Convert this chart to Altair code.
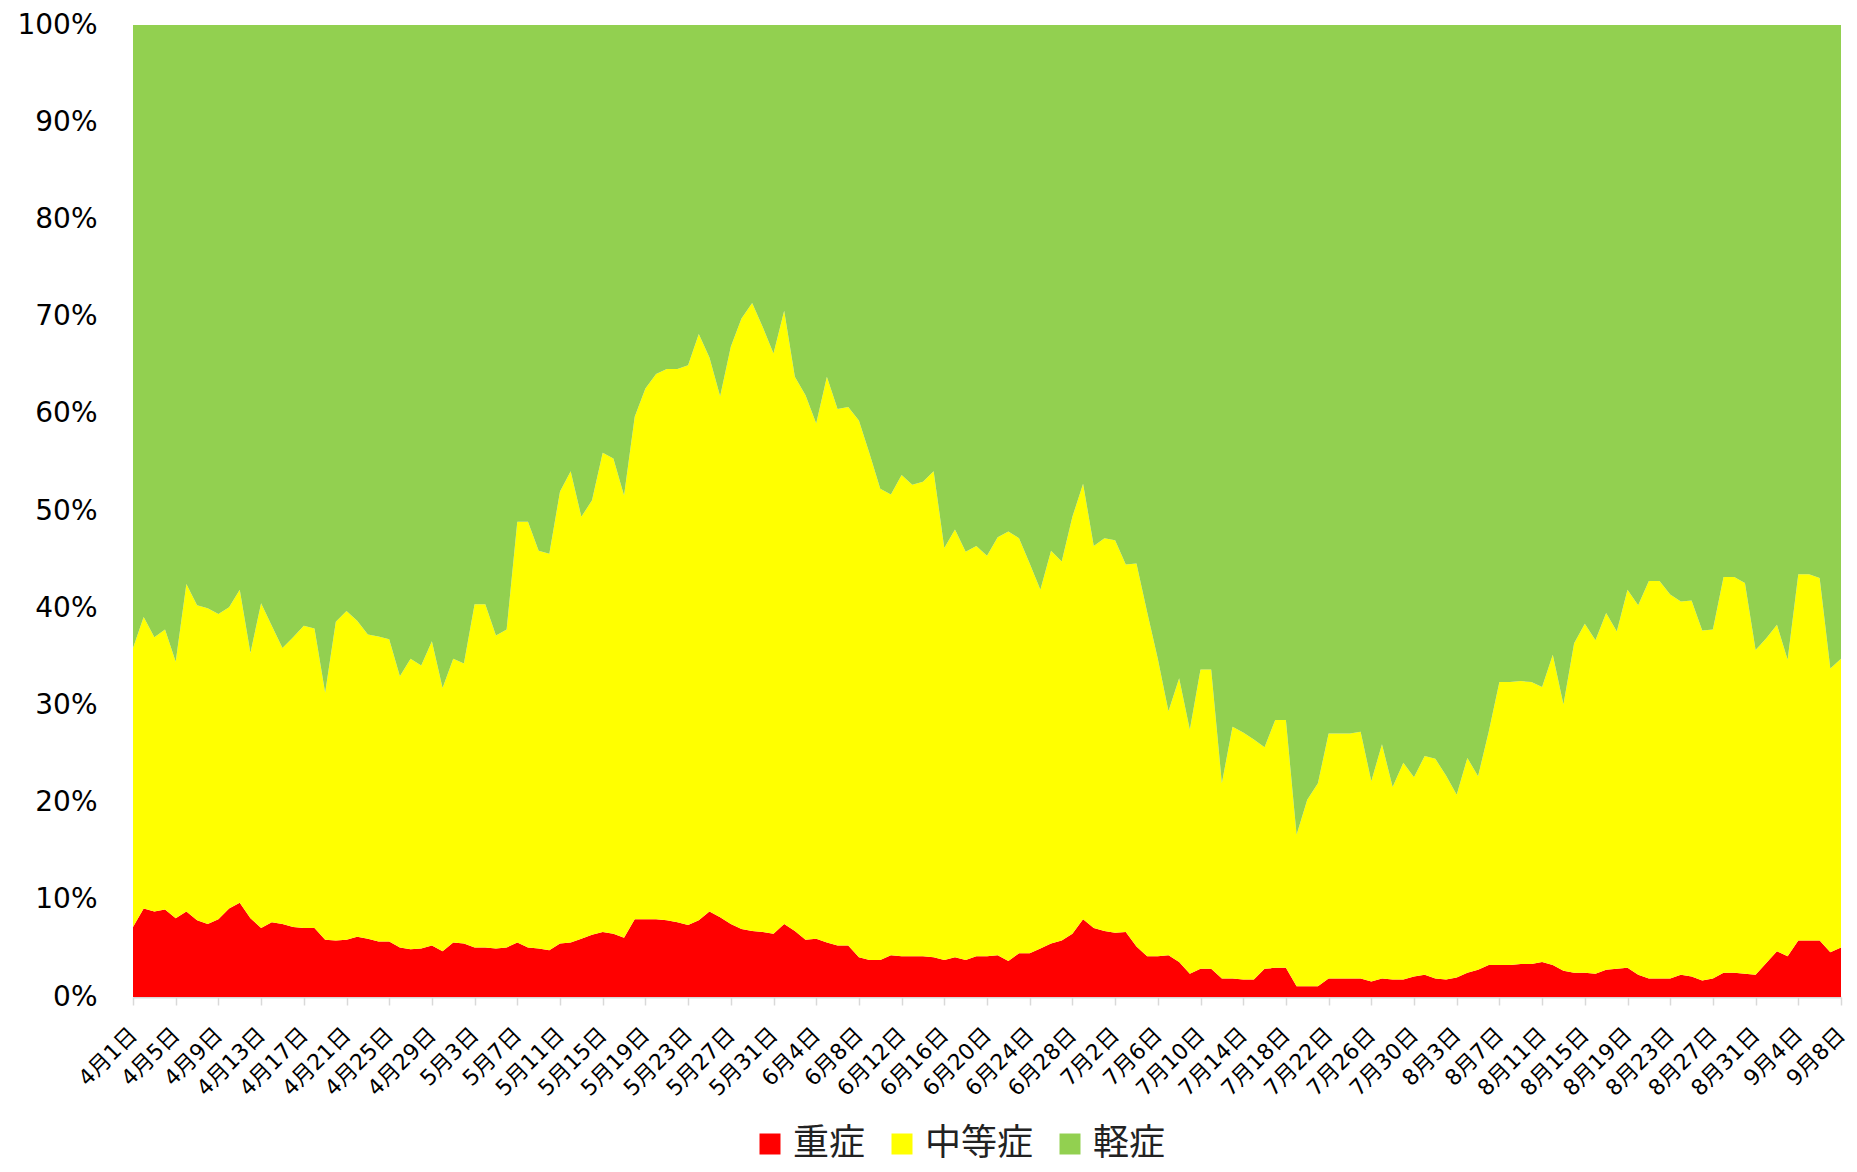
import altair as alt
import pandas as pd

# Date labels, 4月1日 .. 9月8日 (161 days)
dates = [f"{d.month}月{d.day}日" for d in pd.date_range("2020-04-01", "2020-09-08", freq="D")]

categories = ["重症", "中等症", "軽症"]
colors = ["#FF0000", "#FFFF00", "#92D050"]

severe = [
    7.2, 9.1, 8.8, 9.0, 8.1, 8.8, 7.9, 7.5, 8.0, 9.1,
    9.7, 8.1, 7.1, 7.7, 7.5, 7.2, 7.1, 7.1, 5.9, 5.8,
    5.9, 6.2, 6.0, 5.7, 5.7, 5.1, 4.9, 5.0, 5.3, 4.7,
    5.6, 5.5, 5.1, 5.1, 5.0, 5.1, 5.6, 5.1, 5.0, 4.8,
    5.5, 5.6, 6.0, 6.4, 6.7, 6.5, 6.1, 8.0, 8.0, 8.0,
    7.9, 7.7, 7.4, 7.9, 8.8, 8.2, 7.5, 7.0, 6.8, 6.7,
    6.5, 7.5, 6.8, 5.9, 6.0, 5.6, 5.3, 5.3, 4.1, 3.8,
    3.8, 4.3, 4.2, 4.2, 4.2, 4.1, 3.8, 4.1, 3.8, 4.2,
    4.2, 4.3, 3.7, 4.5, 4.5, 5.0, 5.5, 5.8, 6.5, 8.0,
    7.1, 6.8, 6.6, 6.7, 5.2, 4.2, 4.2, 4.3, 3.6, 2.4,
    2.9, 2.9, 1.9, 1.9, 1.8, 1.8, 2.9, 3.0, 3.0, 1.1,
    1.1, 1.1, 1.9, 1.9, 1.9, 1.9, 1.6, 1.9, 1.8, 1.8,
    2.1, 2.3, 1.9, 1.8, 2.0, 2.5, 2.8, 3.3, 3.3, 3.3,
    3.4, 3.4, 3.6, 3.3, 2.7, 2.5, 2.5, 2.4, 2.8, 2.9,
    3.0, 2.3, 1.9, 1.9, 1.9, 2.3, 2.1, 1.7, 1.9, 2.5,
    2.5, 2.4, 2.3, 3.5, 4.7, 4.2, 5.8, 5.8, 5.8, 4.6,
    5.1,
]

moderate = [
    28.7, 30.0, 28.2, 28.8, 26.4, 33.7, 32.4, 32.5, 31.4, 31.0,
    32.2, 27.3, 33.4, 30.5, 28.4, 29.8, 31.1, 30.8, 25.4, 32.8,
    33.8, 32.5, 31.3, 31.4, 31.1, 27.9, 29.9, 29.1, 31.3, 27.1,
    29.2, 28.8, 35.3, 35.3, 32.2, 32.7, 43.3, 43.8, 40.9, 40.8,
    46.5, 48.5, 43.4, 44.7, 49.3, 48.9, 45.5, 51.7, 54.6, 56.1,
    56.7, 56.9, 57.6, 60.3, 57.0, 53.6, 59.4, 62.8, 64.6, 62.2,
    59.7, 63.1, 57.0, 56.0, 53.0, 58.2, 55.2, 55.4, 55.2, 52.1,
    48.5, 47.4, 49.5, 48.5, 48.8, 50.0, 42.4, 44.0, 42.0, 42.2,
    41.2, 43.0, 44.2, 42.7, 40.1, 36.9, 40.4, 39.0, 42.9, 44.8,
    39.3, 40.4, 40.4, 37.8, 39.4, 35.4, 30.6, 25.1, 29.2, 25.1,
    30.8, 30.8, 20.1, 25.9, 25.4, 24.7, 22.8, 25.5, 25.5, 15.6,
    19.2, 20.9, 25.2, 25.2, 25.2, 25.4, 20.6, 24.1, 19.8, 22.3,
    20.5, 22.5, 22.6, 21.0, 18.8, 22.1, 19.9, 24.0, 29.1, 29.1,
    29.1, 29.0, 28.3, 31.9, 27.4, 33.9, 35.9, 34.3, 36.7, 34.7,
    38.9, 38.0, 40.9, 40.9, 39.5, 38.4, 38.7, 36.0, 35.9, 40.7,
    40.7, 40.2, 33.4, 33.4, 33.6, 30.5, 37.7, 37.7, 37.3, 29.2,
    29.7,
]

mild = [
    64.1, 60.9, 63.0, 62.2, 65.5, 57.5, 59.7, 60.0, 60.6, 59.9,
    58.1, 64.6, 59.5, 61.8, 64.1, 63.0, 61.8, 62.1, 68.7, 61.4,
    60.3, 61.3, 62.7, 62.9, 63.2, 67.0, 65.2, 65.9, 63.4, 68.2,
    65.2, 65.7, 59.6, 59.6, 62.8, 62.2, 51.1, 51.1, 54.1, 54.4,
    48.0, 45.9, 50.6, 48.9, 44.0, 44.6, 48.4, 40.3, 37.4, 35.9,
    35.4, 35.4, 35.0, 31.8, 34.2, 38.2, 33.1, 30.2, 28.6, 31.1,
    33.8, 29.4, 36.2, 38.1, 41.0, 36.2, 39.5, 39.3, 40.7, 44.1,
    47.7, 48.3, 46.3, 47.3, 47.0, 45.9, 53.8, 51.9, 54.2, 53.6,
    54.6, 52.7, 52.1, 52.8, 55.4, 58.1, 54.1, 55.2, 50.6, 47.2,
    53.6, 52.8, 53.0, 55.5, 55.4, 60.4, 65.2, 70.6, 67.2, 72.5,
    66.3, 66.3, 78.0, 72.2, 72.8, 73.5, 74.3, 71.5, 71.5, 83.3,
    79.7, 78.0, 72.9, 72.9, 72.9, 72.7, 77.8, 74.0, 78.4, 75.9,
    77.4, 75.2, 75.5, 77.2, 79.2, 75.4, 77.3, 72.7, 67.6, 67.6,
    67.5, 67.6, 68.1, 64.8, 69.9, 63.6, 61.6, 63.3, 60.5, 62.4,
    58.1, 59.7, 57.2, 57.2, 58.6, 59.3, 59.2, 62.3, 62.2, 56.8,
    56.8, 57.4, 64.3, 63.1, 61.7, 65.3, 56.5, 56.5, 56.9, 66.2,
    65.2,
]

series = [severe, moderate, mild]
rows = []
for i in range(len(dates)):
    for k, (cat, arr) in enumerate(zip(categories, series)):
        rows.append({"day": i, "label": dates[i], "category": cat, "ord": k, "value": arr[i]})
df = pd.DataFrame(rows)

n = len(dates) - 1
tick_days = list(range(0, n + 1, 4))
labels_js = "[" + ",".join("'" + d + "'" for d in dates) + "]"

font_latin = "DejaVu Sans, Noto Sans CJK JP"

chart = alt.Chart(df).mark_area(opacity=1, interpolate="linear", clip=True).encode(
    x=alt.X(
        "day:Q",
        scale=alt.Scale(domain=[0, n], nice=False, zero=False),
        axis=alt.Axis(
            values=tick_days,
            labelExpr=labels_js + "[datum.value]",
            labelAngle=-45,
            labelAlign="right",
            labelBaseline="middle",
            labelFontSize=22,
            labelFont=font_latin,
            labelColor="#000000",
            labelPadding=26,
            labelOverlap=False,
            labelFlush=False,
            labelBound=False,
            tickSize=8,
            tickWidth=1.5,
            tickColor="#D9D9D9",
            domainColor="#D9D9D9",
            domainWidth=2,
            grid=False,
            title=None,
        ),
    ),
    y=alt.Y(
        "value:Q",
        stack="zero",
        scale=alt.Scale(domain=[0, 100], nice=False),
        axis=alt.Axis(
            values=list(range(0, 101, 10)),
            labelExpr="datum.value + '%'",
            labelFontSize=28,
            labelFont=font_latin,
            labelColor="#000000",
            labelPadding=36,
            ticks=False,
            domain=False,
            grid=False,
            title=None,
        ),
    ),
    color=alt.Color(
        "category:N",
        scale=alt.Scale(domain=categories, range=colors),
        legend=alt.Legend(
            orient="none",
            legendX=619,
            legendY=1101,
            direction="horizontal",
            title=None,
            symbolType="square",
            symbolSize=441,
            symbolStrokeWidth=0,
            symbolOpacity=1,
            labelFontSize=36,
            labelFont="Noto Sans CJK JP",
            labelColor="#222222",
            labelOffset=5,
            columnPadding=18,
            padding=0,
        ),
    ),
    order=alt.Order("ord:Q", sort="ascending"),
).properties(
    width=1708,
    height=972,
    padding={"left": 125, "top": 17, "right": 8, "bottom": 167},
    autosize=alt.AutoSizeParams(type="none"),
).configure_view(strokeWidth=0)

chart.save("out.html", embed_options={"renderer": "svg", "actions": False})
